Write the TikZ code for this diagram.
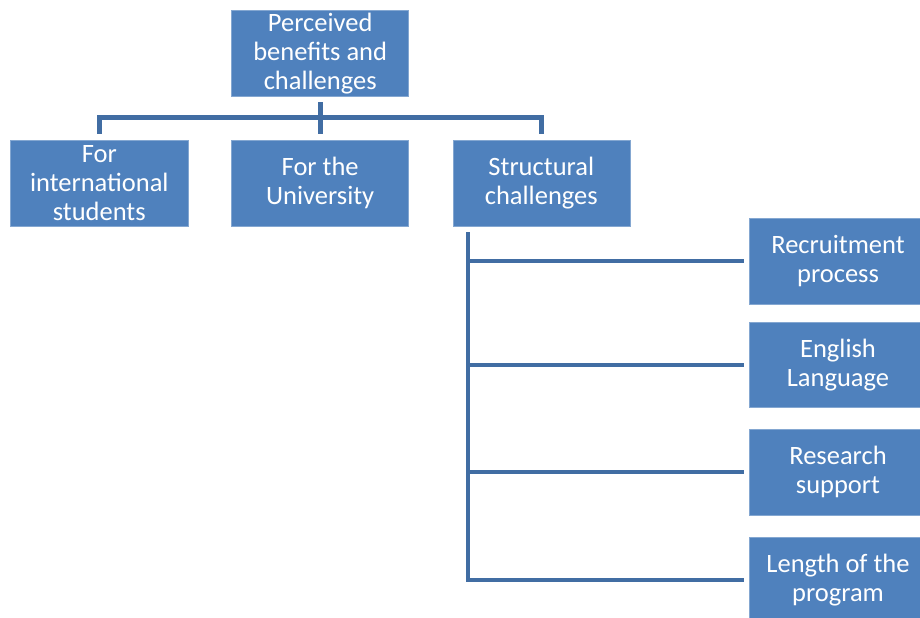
\documentclass[tikz,border=0pt]{standalone}
\usepackage{fontspec}
\setmainfont{Carlito}
\usetikzlibrary{calc}
\definecolor{boxblue}{HTML}{4F81BD}
\definecolor{lineblue}{HTML}{416DA3}
\tikzset{
  box/.style={rectangle, fill=boxblue, draw=boxblue!70!white, line width=0.6bp,
    minimum width=177bp, minimum height=85.7bp, inner sep=0pt,
    text=white, align=center, font=\fontsize{26.6}{29.3}\selectfont},
  conn/.style={draw=lineblue, line width=4.6bp}
}
\begin{document}
\begin{tikzpicture}[x=1bp, y=-1bp]
\useasboundingbox (0,0) rectangle (920,618);
\node[box, minimum height=86.7bp] (top) at (320.2,53.4) {Perceived\\benefits and\\challenges};
\node[box] (b1) at (99.3,183) {For\\international\\students};
\node[box] (b2) at (320.2,183) {For the\\University};
\node[box] (b3) at (541.3,183) {Structural\\challenges};
\node[box] (r1) at (838,261.1) {Recruitment\\process};
\node[box] (r2) at (838,364.8) {English\\Language};
\node[box] (r3) at (838,472) {Research\\support};
\node[box] (r4) at (838,580) {Length of the\\program};
\coordinate (hbar) at (0,117.5);
\coordinate (vx) at (468,0);
\draw[conn] ($(top.south)+(0,5)$) -- ($(b2.north)+(0,-6)$);
\draw[conn] ($(b1.north)+(0,-6)$) -- (b1.north |- hbar) -- (b3.north |- hbar) -- ($(b3.north)+(0,-6)$);
\draw[conn] (vx |- {$(b3.south)+(0,6)$}) -- (vx |- r4) -- ($(r4.west)+(-5.5,0)$);
\draw[conn] (vx |- r1) -- ($(r1.west)+(-5.5,0)$);
\draw[conn] (vx |- r2) -- ($(r2.west)+(-5.5,0)$);
\draw[conn] (vx |- r3) -- ($(r3.west)+(-5.5,0)$);
\end{tikzpicture}
\end{document}
